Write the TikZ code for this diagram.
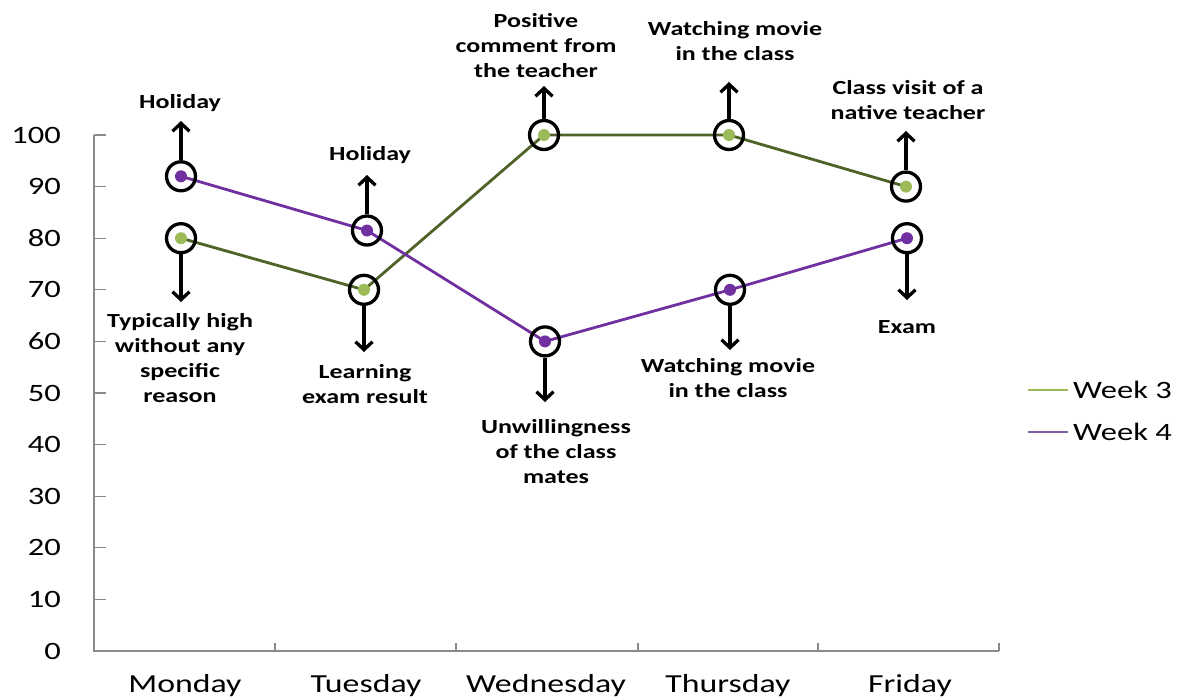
\documentclass[tikz,border=0pt]{standalone}
\usepackage{fontspec}
\setmainfont{Carlito}[FakeStretch=1.3]
\usetikzlibrary{arrows.meta}
\definecolor{wkthree}{HTML}{4F6228}
\definecolor{wkthreedot}{HTML}{9BBB59}
\definecolor{wkfour}{HTML}{7030A0}
\definecolor{wkfourkey}{HTML}{7E5FA6}
\definecolor{axisgray}{HTML}{8A8A8A}

\begin{document}
\begin{tikzpicture}[x=1pt,y=-1pt,
  axisline/.style={draw=axisgray, line width=1.3},
  ylab/.style={anchor=east, inner sep=0, font=\fontsize{25}{30}\selectfont},
  xlab/.style={anchor=base, inner sep=0, font=\fontsize{26}{31}\selectfont},
  keylab/.style={anchor=base west, inner sep=0, font=\fontsize{25}{30}\selectfont},
  seriesthree/.style={draw=wkthree, line width=2.8},
  seriesfour/.style={draw=wkfour, line width=2.8},
  dot/.style={circle, inner sep=0, minimum size=12},
  ring/.style={circle, draw=black, line width=3.3, minimum size=29, inner sep=0},
  arr/.style={draw=black, line width=3.3, -{Straight Barb[length=8pt,width=17pt]}},
  note/.style={anchor=north, inner sep=0, align=center,
    font=\fontsize{20}{25}\selectfont\bfseries}]

\useasboundingbox (0,0) rectangle (1181,699);

% ---- axes ----
\draw[axisline] (94,135) -- (94,651) -- (999,651);
\foreach \k in {0,...,10}{
  \draw[axisline] (94,651-51.6*\k) -- (106,651-51.6*\k);
  \pgfmathtruncatemacro{\v}{10*\k}
  \node[ylab] (y\k) at (61,651-51.6*\k) {\v};
}
\foreach \xx in {275,456,638,818,999}
  \draw[axisline] (\xx,651) -- (\xx,643);

\node[xlab] (dmon) at (185,692) {Monday};
\node[xlab] (dtue) at (366,692) {Tuesday};
\node[xlab] (dwed) at (546,692) {Wednesday};
\node[xlab] (dthu) at (728,692) {Thursday};
\node[xlab] (dfri) at (910,692) {Friday};

% ---- data points ----
\coordinate (a1) at (181,238.2);
\coordinate (a2) at (364,289.8);
\coordinate (a3) at (544,135);
\coordinate (a4) at (729,135);
\coordinate (a5) at (906,186.6);
\coordinate (b1) at (181,176.3);
\coordinate (b2) at (367,230.5);
\coordinate (b3) at (545,341.4);
\coordinate (b4) at (730,289.8);
\coordinate (b5) at (907,238.2);

\draw[seriesthree] (a1) -- (a2) -- (a3) -- (a4) -- (a5);
\draw[seriesfour] (b1) -- (b2) -- (b3) -- (b4) -- (b5);

\foreach \i in {1,...,5}{
  \node[dot, fill=wkthreedot] (pa\i) at (a\i) {};
  \node[dot, fill=wkfour] (pb\i) at (b\i) {};
  \node[ring] (ra\i) at (a\i) {};
  \node[ring] (rb\i) at (b\i) {};
}

% ---- notes ----
\node[note] (n1) at (180,94) {Holiday};
\node[note] (n2) at (180,313) {Typically high\\without any\\specific\\reason};
\node[note] (n3) at (370,146) {Holiday};
\node[note] (n4) at (365,364) {Learning\\exam result};
\node[note] (n5) at (536,13) {Positive\\comment from\\the teacher};
\node[note] (n6) at (556,419) {Unwillingness\\of the class\\mates};
\node[note] (n7) at (735,21) {Watching movie\\in the class};
\node[note] (n8) at (728,358) {Watching movie\\in the class};
\node[note] (n9) at (908,80) {Class visit of a\\native teacher};
\node[note] (n10) at (907,320) {Exam};

% arrow tips
\coordinate (t1) at (181,121);
\coordinate (t2) at (181,302);
\coordinate (t3) at (367,175);
\coordinate (t4) at (364,352);
\coordinate (t5) at (544,86);
\coordinate (t6) at (545,402);
\coordinate (t7) at (729,82);
\coordinate (t8) at (730,350);
\coordinate (t9) at (906,131);
\coordinate (t10) at (907,300);

\draw[arr] (rb1) -- (t1);
\draw[arr] (ra1) -- (t2);
\draw[arr] (rb2) -- (t3);
\draw[arr] (ra2) -- (t4);
\draw[arr] (ra3) -- (t5);
\draw[arr] (rb3) -- (t6);
\draw[arr] (ra4) -- (t7);
\draw[arr] (rb4) -- (t8);
\draw[arr] (ra5) -- (t9);
\draw[arr] (rb5) -- (t10);

% ---- legend ----
\coordinate (k1) at (1028,390);
\coordinate (k2) at (1028,432);
\draw[draw=wkthreedot, line width=2.6] (k1) -- ++(40,0);
\draw[draw=wkfourkey, line width=2.6] (k2) -- ++(40,0);
\node[keylab] (w3) at (1073,398) {Week 3};
\node[keylab] (w4) at (1073,440) {Week 4};
\end{tikzpicture}
\end{document}
